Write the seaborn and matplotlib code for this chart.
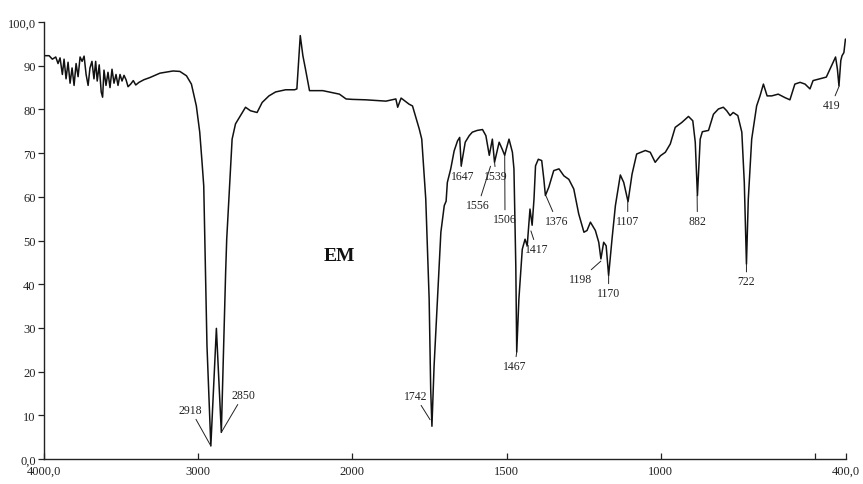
import numpy as np
import pandas as pd
import matplotlib
matplotlib.use("Agg")
import matplotlib.pyplot as plt
import seaborn as sns

# ---------------- data ----------------
wavenumber = [
    4000, 3967, 3946, 3924, 3909, 3896, 3881, 3870, 3857, 3844, 3831, 3818, 3805, 3792,
    3779, 3766, 3753, 3740, 3727, 3714, 3702, 3689, 3676, 3665, 3655, 3642, 3629, 3620,
    3611, 3598, 3585, 3572, 3559, 3546, 3533, 3520, 3507, 3494, 3481, 3468, 3455, 3438,
    3421, 3405, 3384, 3352, 3313, 3248, 3163, 3119, 3076, 3044, 3012, 2990, 2975,
    2964, 2958, 2943, 2918, 2882, 2850, 2822, 2815, 2801, 2780, 2758, 2693, 2661, 2618,
    2585, 2541, 2498, 2433, 2375, 2360, 2338, 2321, 2304, 2278, 2192, 2084, 2041, 2000,
    1956, 1891, 1859, 1853, 1842, 1816, 1805, 1783, 1775, 1762, 1751, 1746, 1742, 1735,
    1724, 1713, 1702, 1696, 1692, 1681, 1670, 1659, 1652, 1647, 1634, 1621, 1611, 1595,
    1578, 1567, 1556, 1546, 1539, 1524, 1514, 1506, 1501, 1492, 1481, 1476, 1470, 1467,
    1460, 1449, 1440, 1433, 1424, 1417, 1411, 1406, 1397, 1386, 1379, 1374, 1363, 1347,
    1330, 1314, 1298, 1282, 1266, 1249, 1239, 1228, 1212, 1201, 1194, 1185, 1177, 1169,
    1158, 1147, 1131, 1120, 1106, 1093, 1078, 1050, 1034, 1018, 1001, 985, 969, 953,
    932, 910, 896, 888, 881, 872, 865, 845, 829, 813, 797, 786, 775, 765, 750, 737, 729,
    722, 716, 705, 689, 678, 667, 655, 640, 619, 597, 581, 565, 548, 532, 516, 506, 484,
    463, 446, 433, 427, 422, 416, 412, 406, 401,
]
transmittance = [
    92.3, 92.3, 91.5, 92.0, 90.5, 91.8, 88.0, 91.5, 87.0, 90.8, 86.0, 89.5, 85.5, 90.5,
    87.5, 92.0, 91.0, 92.2, 88.0, 85.5, 89.5, 91.0, 87.0, 91.0, 86.5, 90.2, 84.0, 82.8,
    89.0, 85.5, 88.5, 85.0, 89.2, 86.0, 88.0, 85.5, 88.0, 86.5, 87.8, 86.8, 85.2, 85.8,
    86.6, 85.6, 86.2, 86.8, 87.3, 88.3, 88.8, 88.7, 87.7, 85.8, 80.8, 74.8, 67.9,
    62.5, 51.9, 25.9, 3.0, 29.9, 6.1, 42.7, 50.3, 59.5, 73.2, 76.7, 80.5, 79.7, 79.3,
    81.6, 83.1, 84.0, 84.5, 84.5, 84.7, 96.9, 92.3, 89.2, 84.3, 84.3, 83.5, 82.4, 82.3,
    82.2, 81.9, 82.4, 80.5, 82.6, 81.2, 80.8, 75.5, 73.2, 59.5, 36.6, 16.0, 7.5, 21.3,
    36.6, 51.9, 58.0, 59.0, 63.3, 66.4, 70.5, 72.8, 73.6, 67.1, 72.5, 74.0, 74.8, 75.2,
    75.4, 74.0, 69.5, 73.2, 67.9, 72.5, 70.9, 69.5, 70.9, 73.2, 70.2, 66.4, 44.2, 24.5,
    36.6, 48.0, 50.3, 48.8, 57.2, 53.5, 59.5, 67.1, 68.6, 68.3, 64.0, 60.3, 62.2, 66.0,
    66.4, 64.8, 64.0, 61.8, 56.1, 51.9, 52.3, 54.2, 52.3, 49.6, 45.8, 49.6, 48.8, 42.0,
    50.3, 58.0, 65.0, 63.3, 58.9, 65.2, 69.8, 70.6, 70.2, 67.9, 69.4, 70.2, 72.1, 75.9,
    77.0, 78.4, 77.4, 72.5, 60.3, 73.2, 74.9, 75.2, 78.9, 80.1, 80.5, 79.7, 78.6, 79.3, 78.6, 74.8, 63.3,
    44.6, 59.5, 73.2, 80.8, 83.1, 85.8, 83.1, 83.1, 83.5, 82.7, 82.2, 85.8, 86.2, 85.8, 84.7, 86.6, 87.0,
    87.4, 90.0, 92.0, 89.2, 85.4, 91.2, 92.3, 93.0, 96.1,
]

peak_labels = ["2918", "2850", "1742", "1647", "1539", "1556", "1506", "1467",
               "1417", "1376", "1198", "1170", "1107", "882", "722", "419"]
peak_x = [2918, 2850, 1748, 1647, 1539, 1552, 1506, 1467,
          1421, 1372, 1194, 1169, 1107, 882, 722, 421]
peak_y = [3.0, 6.1, 9.0, 67.1, 67.9, 67.0, 69.5, 24.5,
          52.2, 60.2, 45.3, 42.0, 58.9, 60.3, 44.6, 85.4]

sample_name = "EM"

x_ticks = [4000, 3000, 2000, 1500, 1000, 500, 400]
x_tick_labels = ["4000,0", "3000", "2000", "1500", "1000", "", "400,0"]
y_ticks = [0, 10, 20, 30, 40, 50, 60, 70, 80, 90, 100]
y_tick_labels = ["0,0", "10", "20", "30", "40", "50", "60", "70", "80", "90", "100,0"]

# ---------------- layout (text anchor positions, data coords) ----------------
label_pos = [(3048, 11.2), (2708, 14.6), (1796, 14.4), (1641, 64.8), (1534, 64.8),
             (1592, 58.1), (1505, 54.9), (1473, 21.3), (1402, 48.1), (1337, 54.5),
             (1259, 41.2), (1169, 38.0), (1107, 54.5), (881, 54.5), (722, 40.7),
             (447, 81.0)]

sns.set_theme(style="ticks")
plt.rcParams['font.family'] = ['Liberation Serif', 'DejaVu Serif']

fig = plt.figure(figsize=(8.63, 4.85), dpi=100)
ax = fig.add_axes([0.051, 0.0515, 0.929, 0.901])


def fwd(x):
    x = np.asarray(x, dtype=float)
    return np.where(x >= 2000, x, 2 * x - 2000)


def inv(u):
    u = np.asarray(u, dtype=float)
    return np.where(u >= 2000, u, (u + 2000) / 2)


df = pd.DataFrame({"wavenumber": wavenumber, "T": transmittance})
sns.lineplot(data=df, x="wavenumber", y="T", ax=ax, color="#111111",
             linewidth=1.1, sort=False, estimator=None)

ax.set_xscale("function", functions=(fwd, inv))
ax.set_xlim(4000, 400)
ax.set_ylim(0, 100)

ax.set_xticks(x_ticks)
ax.set_xticklabels(x_tick_labels)
ax.set_yticks(y_ticks)
ax.set_yticklabels(y_tick_labels)
ax.xaxis.set_minor_locator(matplotlib.ticker.NullLocator())
ax.set_xlabel("")
ax.set_ylabel("")

for s in ["top", "right"]:
    ax.spines[s].set_visible(False)
for s in ["left", "bottom"]:
    ax.spines[s].set_linewidth(1.0)
    ax.spines[s].set_color("#222222")

ax.tick_params(axis="y", direction="out", length=4, width=0.9, labelsize=9,
               colors="#222222", pad=2)
ax.tick_params(axis="x", direction="in", length=4, width=0.9, labelsize=9,
               colors="#222222", pad=4)

for lab, px, py, (tx, ty) in zip(peak_labels, peak_x, peak_y, label_pos):
    ax.annotate(lab, xy=(px, py), xytext=(tx, ty), textcoords="data",
                ha="center", va="center", fontsize=8.5, color="#222222",
                arrowprops=dict(arrowstyle="-", color="#222222", lw=0.7,
                                shrinkA=0, shrinkB=0))

ax.text(2084, 46.5, sample_name, fontsize=14, fontweight="bold",
        ha="center", va="center", color="#111111")

fig.savefig("out.png", dpi=100)
